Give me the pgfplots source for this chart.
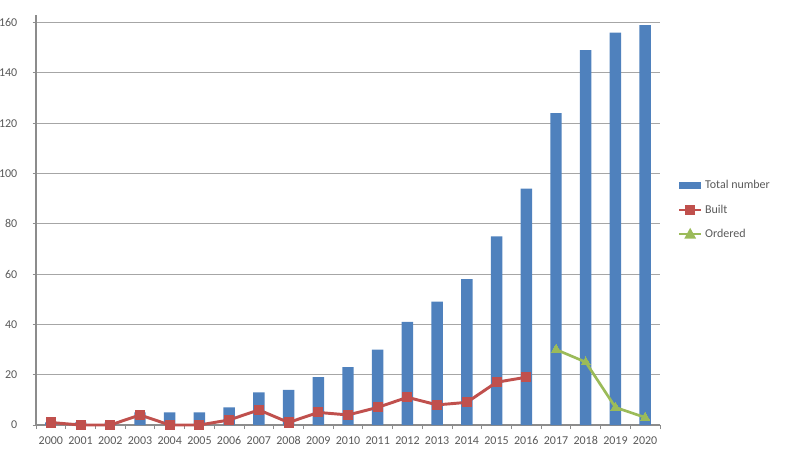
\documentclass[border=0pt]{standalone}
\usepackage{pgfplots}
\pgfplotsset{compat=1.18}
\usepackage{fontspec}
\setmainfont{Carlito}

\definecolor{barblue}{HTML}{4F81BD}
\definecolor{builtred}{HTML}{C0504D}
\definecolor{ordgreen}{HTML}{9BBB59}
\definecolor{gridgray}{HTML}{A6A6A6}
\definecolor{axisgray}{HTML}{8C8C8C}
\definecolor{labgray}{HTML}{595959}

\begin{document}
\begin{tikzpicture}
\useasboundingbox (0,0) rectangle (600pt,337.5pt);
\begin{axis}[
    at={(27pt,18.75pt)}, anchor=south west,
    width=468pt, height=307.5pt, scale only axis,
    xmin=-0.5, xmax=20.5,
    ymin=0, ymax=163,
    clip=false,
    axis x line=bottom, axis y line=left,
    axis line style={axisgray, line width=0.8pt, -},
    xtick={0,...,20},
    xticklabels={2000,2001,2002,2003,2004,2005,2006,2007,2008,2009,2010,2011,2012,2013,2014,2015,2016,2017,2018,2019,2020},
    major x tick style={draw=none},
    minor xtick={-0.5,0.5,...,20.5},
    minor x tick style={axisgray, line width=0.6pt},
    minor tick length=3pt,
    ytick={0,20,...,160},
    major y tick style={axisgray, line width=0.6pt},
    major tick length=2.5pt,
    tick align=outside,
    ymajorgrids=true,
    grid style={gridgray, line width=0.8pt},
    ticklabel style={font=\fontsize{9}{10}\selectfont, text=labgray},
    xticklabel style={yshift=-2.5pt},
    yticklabel style={xshift=-8pt},
    /pgf/number format/assume math mode=true,
    legend style={at={(1.022,0.61)}, anchor=north west, draw=none, fill=none,
        font=\fontsize{9}{10}\selectfont, text=labgray, row sep=6.5pt,
        legend cell align=left},
]
\addplot[ybar, bar width=8.6pt, fill=barblue, draw=none,
    legend image code/.code={\fill[barblue] (0pt,-2.6pt) rectangle (16.5pt,2.6pt);}]
    coordinates {
    (0,1)(1,1)(2,1)(3,5)(4,5)(5,5)(6,7)(7,13)(8,14)(9,19)(10,23)
    (11,30)(12,41)(13,49)(14,58)(15,75)(16,94)(17,124)(18,149)(19,156)(20,159)
    };
\addplot[builtred, line width=2.2pt, mark=square*, mark size=3.4pt,
    mark options={line width=0pt},
    legend image code/.code={\draw[builtred, line width=1.8pt] (0pt,0pt) -- (16.5pt,0pt);
        \fill[builtred] (5.5pt,-2.5pt) rectangle (11pt,2.5pt);}]
    coordinates {
    (0,1)(1,0)(2,0)(3,4)(4,0)(5,0)(6,2)(7,6)(8,1)(9,5)(10,4)
    (11,7)(12,11)(13,8)(14,9)(15,17)(16,19)
    };
\addplot[ordgreen, line width=2pt, mark=triangle*, mark size=4pt,
    mark options={line width=0pt},
    legend image code/.code={\draw[ordgreen, line width=1.6pt] (0pt,0pt) -- (16.5pt,0pt);
        \fill[ordgreen] (5.5pt,-2.2pt) -- (11pt,-2.2pt) -- (8.25pt,2.8pt) -- cycle;}]
    coordinates {
    (17,30)(18,25)(19,7)(20,3)
    };
\legend{Total number,Built,Ordered}
\end{axis}
\end{tikzpicture}
\end{document}
